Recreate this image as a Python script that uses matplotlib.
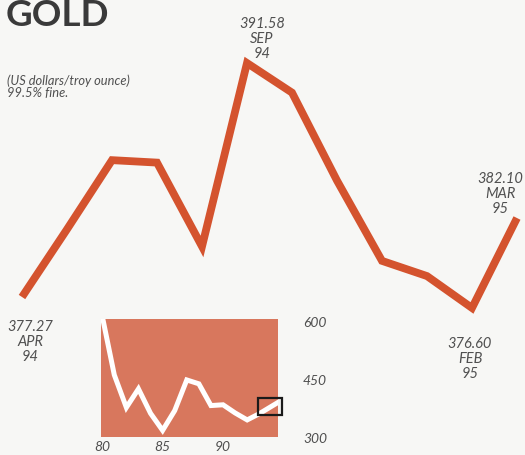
import matplotlib.pyplot as plt
from matplotlib.patches import Rectangle

# monthly average gold price, Apr 1994 - Mar 1995 (US$/troy oz)
months = ["APR", "MAY", "JUN", "JUL", "AUG", "SEP", "OCT", "NOV", "DEC", "JAN", "FEB", "MAR"]
month_years = ["94"] * 9 + ["95"] * 3
prices = [377.27, 381.41, 385.64, 385.49, 380.36, 391.58, 389.77, 384.39, 379.48, 378.55, 376.60, 382.10]

# annual averages for the small history panel
hist_years = [80, 81, 82, 83, 84, 85, 86, 87, 88, 89, 90, 91, 92, 93, 94.6]
hist_prices = [612, 460, 376, 424, 361, 317, 368, 447, 437, 381, 383, 362, 344, 360, 390]
hist_yticks = [300, 450, 600]
hist_xticks = [80, 85, 90]

# which months get a price label, and where the label sits (x px, top y px)
labelled = {0: (30, 320), 5: (262, 17), 10: (470, 337), 11: (500, 172)}

LINE = "#d4532e"
PANEL = "#d8775d"
GREY = "#505050"
BG = "#f7f7f5"
FONT = "Lato"

W, H = 525, 456
fig = plt.figure(figsize=(W / 100, H / 100), dpi=100, facecolor=BG)

# main line, axes fill the whole figure
ax = fig.add_axes([0, 0, 1, 1])
ax.set_facecolor("none")
ax.plot(range(len(prices)), prices, color=LINE, lw=5.6, solid_joinstyle="miter",
        solid_capstyle="butt")
ax.set_xlim(-22 / 45, (W - 22) / 45)
ax.set_ylim(377.27 - 158 / 16.35, 377.27 + 298 / 16.35)
ax.axis("off")

for i, (px, py) in labelled.items():
    txt = f"{prices[i]:.2f}\n{months[i]}\n{month_years[i]}"
    fig.text(px / W, 1 - py / H, txt, ha="center", va="top", color=GREY,
             fontsize=10.5, style="italic", family=FONT, linespacing=1.1)

fig.text(6 / W, 1 - 26 / H, "GOLD", ha="left", va="baseline", color="#3a3a3a",
         fontsize=26.5, weight="bold", family=FONT)
fig.text(7 / W, 1 - 97 / H, "(US dollars/troy ounce)\n99.5% fine.", ha="left",
         va="baseline", color=GREY, fontsize=9.3, style="italic",
         family=FONT, linespacing=1.0)

# small history panel
ins = fig.add_axes([101 / W, 18 / H, 177 / W, 118 / H])
ins.set_facecolor(PANEL)
ins.plot(hist_years, hist_prices, color="white", lw=3.6, solid_joinstyle="miter")
ins.set_xlim(79.9, 94.55)
ins.set_ylim(300, 604)
for s in ins.spines.values():
    s.set_visible(False)
ins.yaxis.tick_right()
ins.set_yticks(hist_yticks)
ins.set_xticks(hist_xticks)
ins.tick_params(length=0, labelcolor=GREY)
for lab in ins.get_xticklabels() + ins.get_yticklabels():
    lab.set_family(FONT)
    lab.set_style("italic")
    lab.set_fontsize(10)
ins.tick_params(axis="y", pad=18)
ins.tick_params(axis="x", pad=2)
ins.add_patch(Rectangle((92.9, 357), 2.0, 44, fill=False, ec="#1a1a1a", lw=1.6,
                        clip_on=False, zorder=5))

fig.savefig("out.png", dpi=100, facecolor=BG)
